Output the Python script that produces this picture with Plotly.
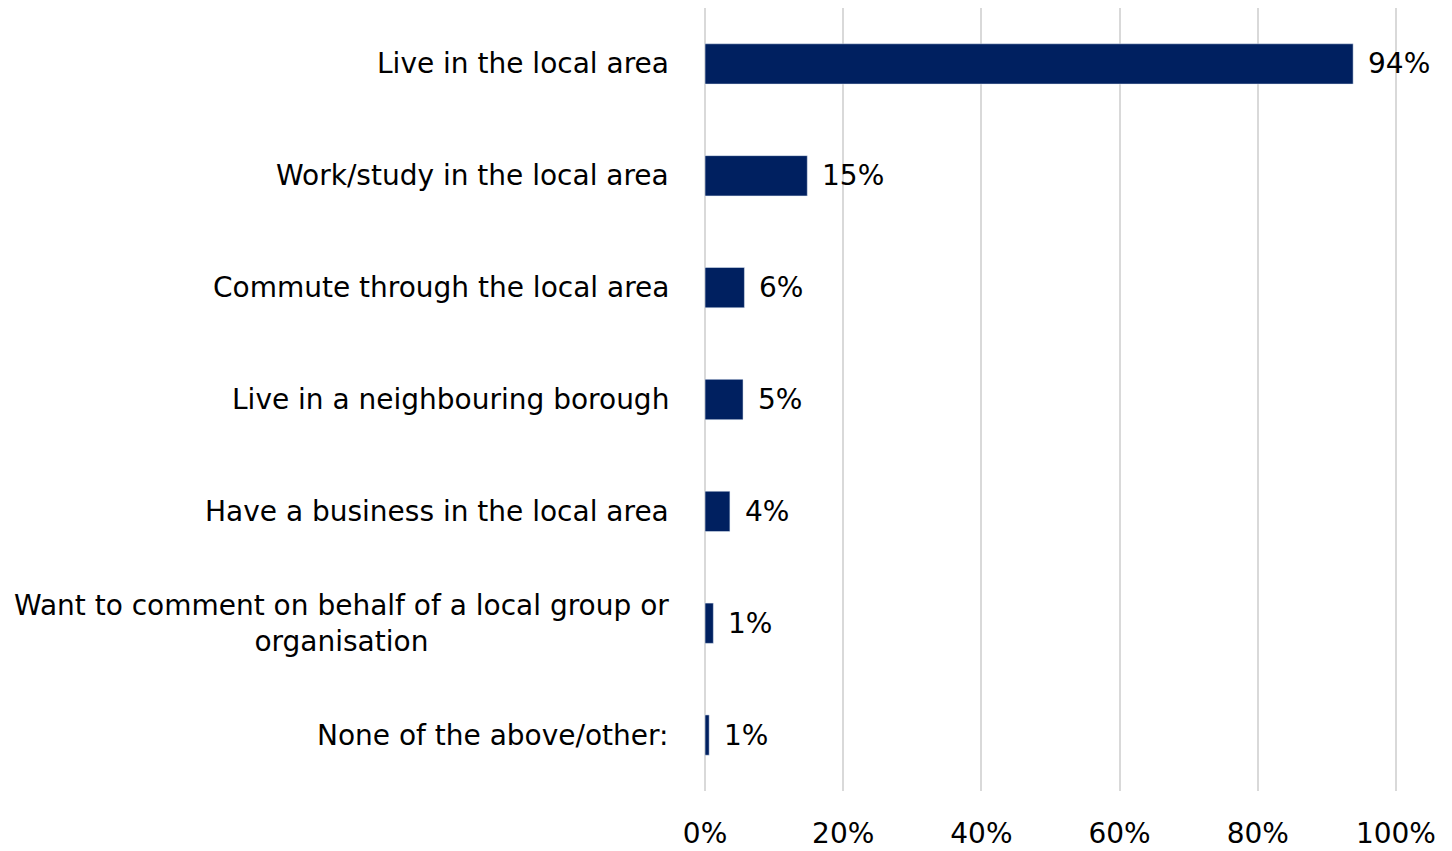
import plotly.graph_objects as go

categories = [
    'Live in the local area',
    'Work/study in the local area',
    'Commute through the local area',
    'Live in a neighbouring borough',
    'Have a business in the local area',
    'Want to comment on behalf of a local group or<br>organisation',
    'None of the above/other:',
]
values = [93.8, 14.8, 5.7, 5.5, 3.6, 1.2, 0.6]
value_labels = ['94%', '15%', '6%', '5%', '4%', '1%', '1%']
tick_vals = [0, 20, 40, 60, 80, 100]
tick_text = ['0%', '20%', '40%', '60%', '80%', '100%']

FONT = 'DejaVu Sans'
SIZE = 28
NAVY = '#002060'

fig = go.Figure(
    go.Bar(
        x=values,
        y=categories,
        orientation='h',
        marker_color=NAVY,
        width=0.36,
        hoverinfo='skip'))

# category labels (centred multi-line like the original)
for cat in categories:
    fig.add_annotation(
        x=-0.048, xref='paper', y=cat, yref='y',
        text=cat, showarrow=False, xanchor='right', align='center',
        font=dict(family=FONT, size=SIZE, color='#000000'))

# value labels
for cat, v, lab in zip(categories, values, value_labels):
    fig.add_annotation(
        x=v, y=cat, text=lab, showarrow=False, xanchor='left', xshift=13,
        font=dict(family=FONT, size=SIZE, color='#000000'))

fig.update_xaxes(
    range=[-0.15, 100.15],
    tickvals=tick_vals,
    ticktext=tick_text,
    showgrid=True,
    gridcolor='#d9d9d9',
    gridwidth=2,
    zeroline=True,
    zerolinecolor='#d9d9d9',
    zerolinewidth=2,
    showline=False,
    tickfont=dict(family=FONT, size=SIZE, color='#000000'),
    ticklabelstandoff=23,
    automargin=False)

fig.update_yaxes(
    categoryorder='array',
    categoryarray=categories[::-1],
    showticklabels=False,
    showgrid=False,
    zeroline=False,
    automargin=False)

# the page adds an 8px body margin, so the figure is sized to fit the window
fig.update_layout(
    width=1444,
    height=843,
    plot_bgcolor='white',
    paper_bgcolor='white',
    showlegend=False,
    bargap=0.64,
    margin=dict(l=696, r=55, t=0, b=60, autoexpand=False),
    font=dict(family=FONT, size=SIZE, color='#000000'))

fig.write_html("out.html")
